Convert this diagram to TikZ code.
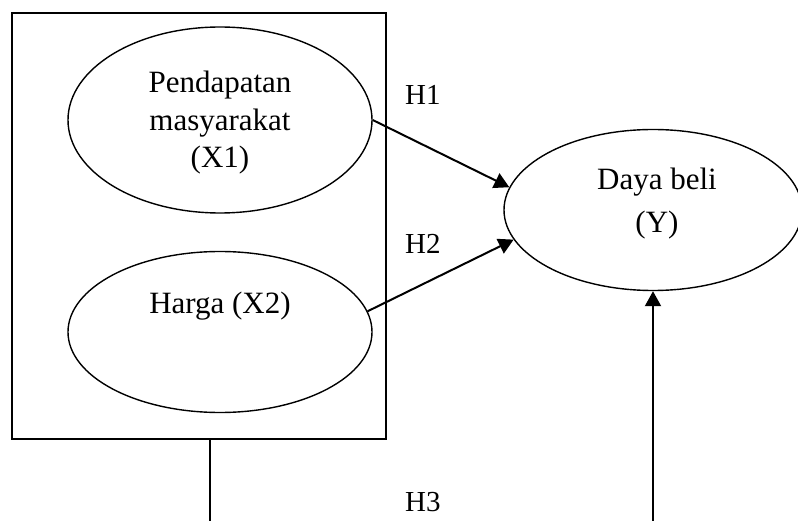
\documentclass[tikz,border=0pt]{standalone}
\usepackage{fontspec}
\setmainfont{Liberation Serif}
\usetikzlibrary{shapes.geometric,arrows.meta}
\tikzset{
  oval/.style={draw, ellipse, line width=1.4pt, inner sep=0pt},
  boxframe/.style={draw, rectangle, line width=1.3pt, inner sep=0pt},
  lbl/.style={font=\fontsize{31}{37.5}\selectfont, align=center, inner sep=0pt},
  hlbl/.style={font=\fontsize{29}{33}\selectfont, anchor=base west, inner sep=0pt},
  conn/.style={line width=2pt},
  arr/.style={conn, -{Triangle[length=15pt,width=16pt]}}
}
\begin{document}
\begin{tikzpicture}[x=1pt,y=-1pt]
\useasboundingbox (0,0) rectangle (798,521);
\node[boxframe, minimum width=374pt, minimum height=426pt] (box) at (199,226) {};
\node[oval, minimum width=304pt, minimum height=186pt] (x1) at (220,120) {};
\node[oval, minimum width=304pt, minimum height=161pt] (x2) at (220,332) {};
\node[oval, minimum width=298pt, minimum height=161pt] (y) at (653,210) {};
\node[lbl, anchor=base] (t1) at (220,168) {Pendapatan\\masyarakat\\(X1)};
\node[lbl, anchor=base] (t2) at (220,314) {Harga (X2)};
\node[lbl, anchor=base] (t3) at (657,190) {Daya beli};
\node[lbl, anchor=base] (t4) at (657,233) {(Y)};
\node[hlbl] (h1) at (405,105) {H1};
\node[hlbl] (h2) at (405,254) {H2};
\node[hlbl] (h3) at (405,511) {H3};
\coordinate (b1) at (210,521);
\coordinate (b2) at (653,521);
\draw[arr] (x1.0) -- (y.171);
\draw[arr] (x2.8) -- (y.192);
\draw[conn] (box.south -| b1) -- (b1);
\draw[arr] (b2) -- (y.south);
\end{tikzpicture}
\end{document}
